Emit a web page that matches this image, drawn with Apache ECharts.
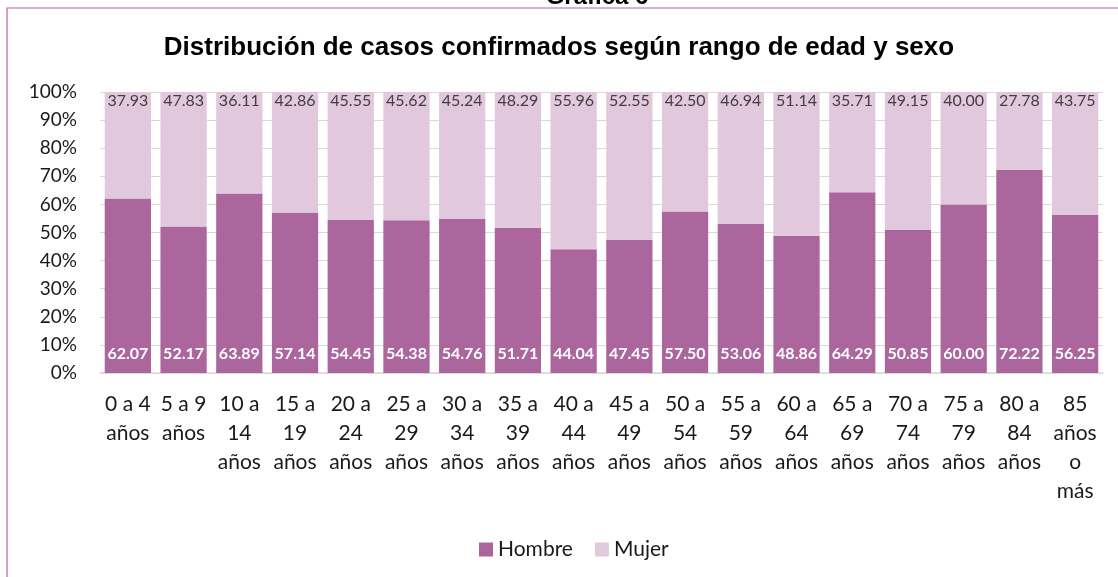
<!DOCTYPE html>
<html>
<head>
<meta charset="utf-8">
<script src="https://cdn.jsdelivr.net/npm/echarts@6/dist/echarts.min.js"></script>
<style>
html, body { margin: 0; padding: 0; background: #fff; }
#chart { width: 1118px; height: 577px; }
</style>
</head>
<body>
<div id="chart"></div>
<script>
// rangos de edad (con saltos de línea como en la gráfica original)
var categorias = ['0 a 4\naños', '5 a 9\naños', '10 a\n14\naños', '15 a\n19\naños', '20 a\n24\naños', '25 a\n29\naños',
	'30 a\n34\naños', '35 a\n39\naños', '40 a\n44\naños', '45 a\n49\naños', '50 a\n54\naños', '55 a\n59\naños',
	'60 a\n64\naños', '65 a\n69\naños', '70 a\n74\naños', '75 a\n79\naños', '80 a\n84\naños', '85\naños\no\nmás'];
var hombre = [62.07, 52.17, 63.89, 57.14, 54.45, 54.38, 54.76, 51.71, 44.04, 47.45, 57.50, 53.06, 48.86, 64.29, 50.85, 60.00, 72.22, 56.25];
var mujer = [37.93, 47.83, 36.11, 42.86, 45.55, 45.62, 45.24, 48.29, 55.96, 52.55, 42.50, 46.94, 51.14, 35.71, 49.15, 40.00, 27.78, 43.75];
var ejeY = [0, 100, 10]; // min, max, intervalo

var colorHombre = '#ab669e';
var colorMujer = '#e2c8dc';
var fuente = 'Lato';

var myChart = echarts.init(document.getElementById('chart'));
myChart.setOption({
	backgroundColor: '#fff',
	animation: false,
	title: {
		text: 'Distribución de casos confirmados según rango de edad y sexo',
		left: 'center',
		top: 30,
		textStyle: { fontFamily: 'Liberation Sans', fontWeight: 'bold', fontSize: 26, color: '#000' }
	},
	graphic: [
		{// marco del gráfico
			type: 'rect',
			shape: { x: 7, y: 8, width: 1130, height: 620 },
			style: { fill: null, stroke: '#b564a8', lineWidth: 1.2 },
			silent: true
		},
		{
			type: 'text',
			style: {
				text: 'Gráfica 6', x: 597, y: 9, align: 'center', verticalAlign: 'bottom',
				font: 'bold 24px "Liberation Sans"', fill: '#000'
			}
		}
	],
	legend: {
		data: ['Hombre', 'Mujer'],
		top: 534,
		left: 474,
		itemWidth: 14,
		itemHeight: 14,
		itemGap: 22,
		icon: 'rect',
		textStyle: { fontFamily: fuente, fontSize: 21, color: '#1a1a1a' }
	},
	grid: { left: 100, right: 15, top: 92, bottom: 204 },
	xAxis: {
		type: 'category',
		data: categorias,
		axisTick: { show: false },
		axisLine: { lineStyle: { color: '#d9d9d9', width: 1.5 } },
		axisLabel: {
			interval: 0,
			margin: 17,
			fontFamily: fuente,
			fontSize: 21,
			lineHeight: 29,
			color: '#1a1a1a'
		}
	},
	yAxis: {
		type: 'value',
		min: ejeY[0],
		max: ejeY[1],
		interval: ejeY[2],
		axisLine: { show: false },
		axisTick: { show: false },
		splitLine: { lineStyle: { color: '#d9d9d9', width: 1.2 } },
		axisLabel: {
			formatter: '{value}%',
			margin: 23,
			fontFamily: fuente,
			fontSize: 19,
			color: '#1a1a1a'
		}
	},
	series: [
		{
			name: 'Hombre',
			type: 'bar',
			stack: 'total',
			data: hombre,
			barCategoryGap: '17%',
			itemStyle: { color: colorHombre },
			label: {
				show: true,
				position: 'insideBottom',
				distance: 11,
				formatter: function (p) { return p.value.toFixed(2); },
				fontFamily: fuente,
				fontWeight: 'bold',
				fontSize: 16,
				color: '#fff'
			}
		},
		{
			name: 'Mujer',
			type: 'bar',
			stack: 'total',
			data: mujer,
			itemStyle: { color: colorMujer },
			label: {
				show: true,
				position: 'insideTop',
				distance: 1,
				formatter: function (p) { return p.value.toFixed(2); },
				fontFamily: fuente,
				fontSize: 16,
				color: '#404040'
			}
		}
	]
});
</script>
</body>
</html>
